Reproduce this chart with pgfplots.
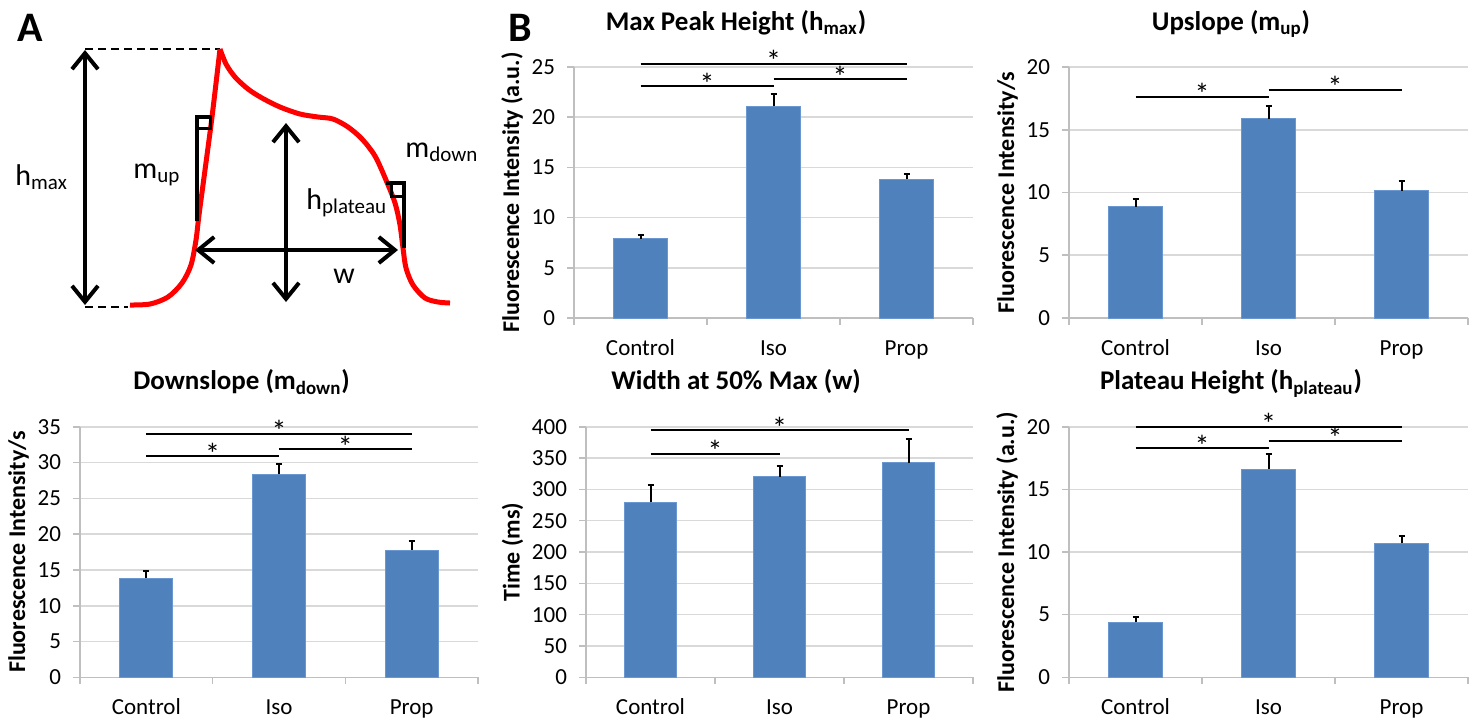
\documentclass[border=0pt]{standalone}
\usepackage{pgfplots}
\pgfplotsset{compat=1.18}
\usepackage{fontspec}
\setmainfont{Carlito}
\usetikzlibrary{arrows.meta}

\definecolor{barblue}{HTML}{4F81BD}
\definecolor{baredge}{HTML}{6A97CF}
\definecolor{gridgray}{HTML}{D9D9D9}
\definecolor{axisgray}{HTML}{BFBFBF}

% significance bar: x1, x2, xmid, y
\newcommand{\sig}[4]{%
  \draw[black, line width=1pt] (axis cs:#1,#4) -- (axis cs:#2,#4);
  \node[anchor=base, inner sep=0pt, yshift=-4pt, font=\fontsize{15}{15}\selectfont] at (axis cs:#3,#4) {*};}

\pgfplotsset{
  barpanel/.style={
    scale only axis, clip=false,
    ybar, bar width=0.4,
    xmin=0.5, xmax=3.5, ymin=0,
    xtick={1,2,3}, xticklabels={Control,Iso,Prop},
    minor xtick={0.5,1.5,2.5,3.5},
    axis lines*=left,
    axis line style={draw=axisgray, line width=0.8pt, -},
    major x tick style={draw=none},
    minor x tick style={draw=axisgray, line width=0.8pt},
    y tick style={draw=axisgray, line width=0.8pt},
    tick align=outside,
    major tick length=3.5pt, minor tick length=3.5pt,
    ymajorgrids, grid style={draw=gridgray, line width=0.8pt},
    tick label style={font=\fontsize{11.5}{13}\selectfont, black},
    xticklabel style={anchor=base, yshift=-15pt},
    yticklabel style={xshift=-2.5pt},
    /pgf/number format/assume math mode=true,
    ylabel shift=-2.5pt,
    ylabel style={font=\bfseries\fontsize{12}{14}\selectfont},
    title style={at={(0.406,1)}, anchor=base, yshift=12.5pt,
                 font=\bfseries\fontsize{13.5}{16}\selectfont},
  },
  barplot/.style={
    fill=barblue, draw=baredge, line width=0.5pt,
    error bars/.cd, y dir=plus, y explicit,
    error bar style={black, line width=1pt},
    error mark options={black, line width=1pt, mark size=1.5pt, rotate=90},
  },
}

\begin{document}
\begin{tikzpicture}
\useasboundingbox (0,0) rectangle (738pt,-359.5pt);

\node[font=\bfseries\fontsize{21}{24}\selectfont] at (15pt,-14pt) {A};
\node[font=\bfseries\fontsize{21}{24}\selectfont] at (260pt,-14pt) {B};

% ---- panel A: schematic, coordinates in pixels (y down)
\begin{axis}[at={(0pt,0pt)}, anchor=north west, scale only axis,
    width=240pt, height=160pt, xmin=0, xmax=480, ymin=0, ymax=320,
    y dir=reverse, hide axis, clip=false]
  \draw[line width=1pt, dash pattern=on 4pt off 2.5pt] (axis cs:85,49) -- (axis cs:220,49);
  \draw[line width=1pt, dash pattern=on 4pt off 2.5pt] (axis cs:85,307) -- (axis cs:128,307);
  \addplot[red, line width=2.5pt, smooth, tension=0.5] coordinates {
    (130,305) (150,304) (168,297) (182,283) (191,265) (196,240)
    (199,215) (205,170) (212,117) (220,49)};
  \addplot[red, line width=2.5pt, smooth, tension=0.5] coordinates {
    (220,49) (226,64) (235,77) (248,89) (262,98) (280,107) (300,114)
    (318,117) (333,119) (348,127) (362,139) (375,156) (386,180)
    (395,203) (400,225) (403,248) (406,268) (413,285) (425,298)
    (438,302) (450,303)};
  \draw[line width=2pt, {Straight Barb[length=8pt,width=13pt]}-{Straight Barb[length=8pt,width=13pt]}]
    (axis cs:85,50) -- (axis cs:85,305);
  \draw[line width=2pt, {Straight Barb[length=8pt,width=13pt]}-{Straight Barb[length=8pt,width=13pt]}]
    (axis cs:286,123) -- (axis cs:286,302);
  \draw[line width=2pt, {Straight Barb[length=8pt,width=13pt]}-{Straight Barb[length=8pt,width=13pt]}]
    (axis cs:195,250) -- (axis cs:398,250);
  \draw[line width=2pt] (axis cs:197,221) -- (axis cs:197,117) -- (axis cs:212,117);
  \draw[line width=1.5pt] (axis cs:197,128) -- (axis cs:210,128) -- (axis cs:210,117);
  \draw[line width=2pt] (axis cs:386,183) -- (axis cs:404,183) -- (axis cs:404,248);
  \draw[line width=1.5pt] (axis cs:391,183) -- (axis cs:391,196) -- (axis cs:404,196);
  \node[anchor=base west, inner sep=0pt, font=\fontsize{15}{18}\selectfont] at (axis cs:15,185) {h\textsubscript{max}};
  \node[anchor=base west, inner sep=0pt, font=\fontsize{15}{18}\selectfont] at (axis cs:133,178) {m\textsubscript{up}};
  \node[anchor=base west, inner sep=0pt, font=\fontsize{15}{18}\selectfont] at (axis cs:306,209) {h\textsubscript{plateau}};
  \node[anchor=base west, inner sep=0pt, font=\fontsize{15}{18}\selectfont] at (axis cs:405,157) {m\textsubscript{down}};
  \node[anchor=base west, inner sep=0pt, font=\fontsize{15}{18}\selectfont] at (axis cs:333,283) {w};
\end{axis}

% ---- Max Peak Height
\begin{axis}[barpanel, at={(287pt,-159pt)}, anchor=south west,
    width=199.5pt, height=125.5pt, ymax=25, ytick={0,5,...,25},
    title={Max Peak Height (h\textsubscript{max})},
    ylabel={Fluorescence Intensity (a.u.)}]
  \addplot[barplot] coordinates {(1,7.87) +- (0,0.40) (2,21.08) +- (0,1.26) (3,13.84) +- (0,0.50)};
  \sig{1}{3}{2}{25.33}
  \sig{1}{2}{1.5}{23.1}
  \sig{2}{3}{2.5}{23.8}
\end{axis}

% ---- Upslope
\begin{axis}[barpanel, at={(534.5pt,-159pt)}, anchor=south west,
    width=199.5pt, height=125.5pt, ymax=20, ytick={0,5,...,20},
    title={Upslope (m\textsubscript{up})},
    ylabel={Fluorescence Intensity/s}]
  \addplot[barplot] coordinates {(1,8.87) +- (0,0.64) (2,15.89) +- (0,0.98) (3,10.15) +- (0,0.80)};
  \sig{1}{2}{1.5}{17.64}
  \sig{2}{3}{2.5}{18.2}
\end{axis}

% ---- Downslope
\begin{axis}[barpanel, at={(40pt,-338.65pt)}, anchor=south west,
    width=199pt, height=125.3pt, ymax=35, ytick={0,5,...,35},
    title={Downslope (m\textsubscript{down})},
    ylabel={Fluorescence Intensity/s}]
  \addplot[barplot] coordinates {(1,13.87) +- (0,0.97) (2,28.34) +- (0,1.44) (3,17.78) +- (0,1.30)};
  \sig{1}{3}{2}{34.0}
  \sig{1}{2}{1.5}{30.85}
  \sig{2}{3}{2.5}{31.87}
\end{axis}

% ---- Width at 50% Max
\begin{axis}[barpanel, at={(293pt,-338.65pt)}, anchor=south west,
    width=193.5pt, height=125.3pt, ymax=400, ytick={0,50,...,400},
    title style={at={(0.388,1)}},
    title={Width at 50\% Max (w)},
    ylabel={Time (ms)}]
  \addplot[barplot] coordinates {(1,279.3) +- (0,27) (2,320.2) +- (0,17.6) (3,342.6) +- (0,37.7)};
  \sig{1}{3}{2}{394.7}
  \sig{1}{2}{1.5}{356.9}
\end{axis}

% ---- Plateau Height
\begin{axis}[barpanel, at={(534.5pt,-338.65pt)}, anchor=south west,
    width=199.5pt, height=125.3pt, ymax=20, ytick={0,5,...,20},
    title={Plateau Height (h\textsubscript{plateau})},
    ylabel={Fluorescence Intensity (a.u.)}]
  \addplot[barplot] coordinates {(1,4.41) +- (0,0.43) (2,16.62) +- (0,1.22) (3,10.69) +- (0,0.59)};
  \sig{1}{3}{2}{20.0}
  \sig{1}{2}{1.5}{18.27}
  \sig{2}{3}{2.5}{18.86}
\end{axis}
\end{tikzpicture}
\end{document}
